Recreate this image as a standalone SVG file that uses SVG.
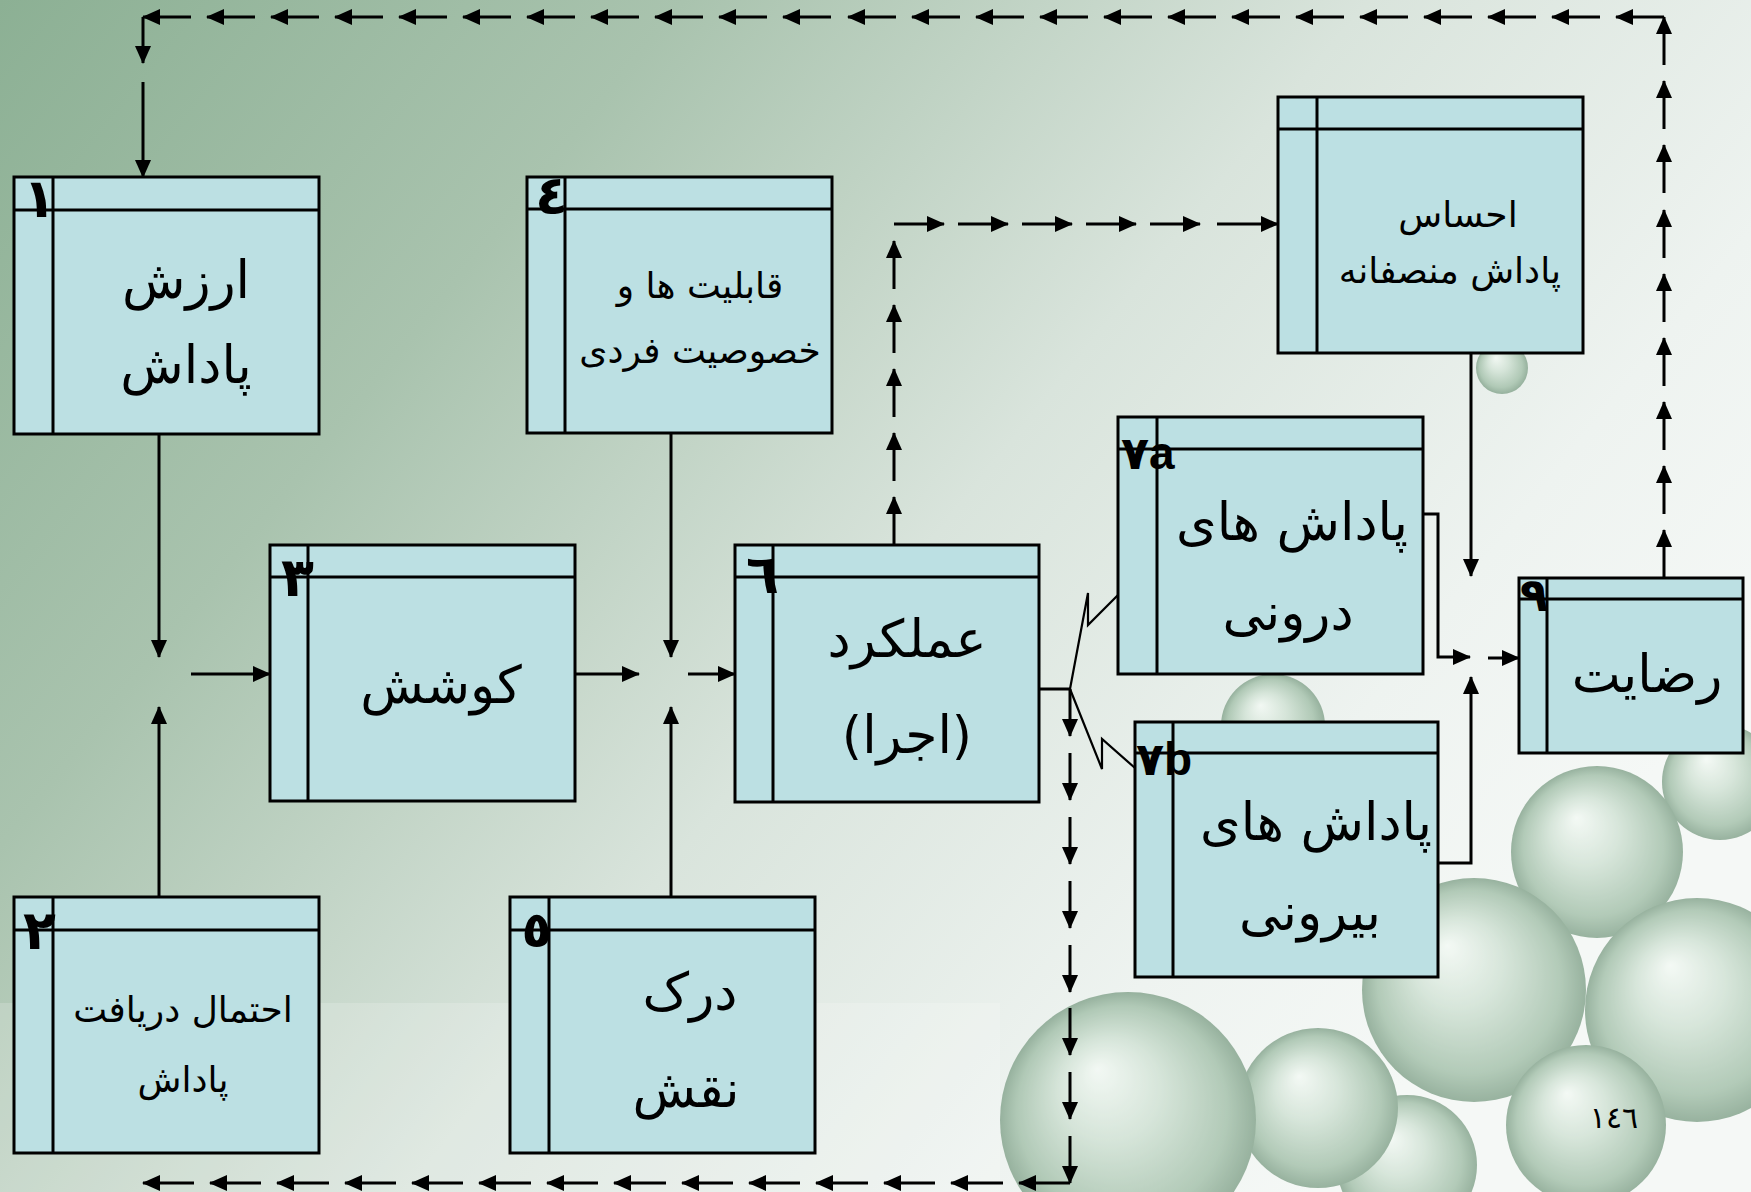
<svg xmlns="http://www.w3.org/2000/svg" width="1751" height="1192" viewBox="0 0 1751 1192">
  <defs>
    <linearGradient id="bg" x1="0" y1="0" x2="1" y2="0.55">
      <stop offset="0" stop-color="#8cb094"/>
      <stop offset="0.3" stop-color="#a9c3ae"/>
      <stop offset="0.6" stop-color="#d9e4dc"/>
      <stop offset="0.85" stop-color="#eef3f0"/>
      <stop offset="1" stop-color="#f5f8f6"/>
    </linearGradient>
    <radialGradient id="bub" cx="0.5" cy="0.5" r="0.5" fx="0.38" fy="0.3">
      <stop offset="0" stop-color="#f4faf5"/>
      <stop offset="0.4" stop-color="#cfe1d3"/>
      <stop offset="0.82" stop-color="#a0bea7"/>
      <stop offset="1" stop-color="#7e9f87"/>
    </radialGradient>
    <marker id="ah" viewBox="0 0 18 16" refX="17" refY="8" markerWidth="18" markerHeight="16" markerUnits="userSpaceOnUse" orient="auto">
      <path d="M0,0 L18,8 L0,16 z" fill="#000"/>
    </marker>
    <style>
      .box { fill: #bce0e3; stroke: #000; stroke-width: 3; }
      .div { stroke: #000; stroke-width: 3; }
      .c { fill: none; stroke: #000; stroke-width: 3; }
      .a { fill: none; stroke: #000; stroke-width: 3; marker-end: url(#ah); }
      .z { fill: none; stroke: #000; stroke-width: 2.2; }
      .t { font-family: "DejaVu Sans", sans-serif; fill: #000; text-anchor: middle; direction: rtl; unicode-bidi: embed; }
      .n { font-family: "DejaVu Sans", sans-serif; font-weight: bold; fill: #000; text-anchor: end; }
      .nl { font-family: "Liberation Sans", "DejaVu Sans", sans-serif; font-weight: bold; fill: #000; font-size: 46px; }
      .b { fill: url(#bub); }
    </style>
  </defs>

  <!-- backdrop -->
  <rect x="0" y="0" width="1751" height="1192" fill="url(#bg)"/>
  <rect x="0" y="1003" width="1000" height="189" fill="#ffffff" opacity="0.18"/>

  <!-- bubble cluster, back to front -->
  <g id="bubbles" opacity="0.78">
    <circle class="b" cx="1502" cy="368" r="26"/>
    <circle class="b" cx="1273" cy="726" r="52"/>
    <circle class="b" cx="1720" cy="782" r="58"/>
    <circle class="b" cx="1597" cy="852" r="86"/>
    <circle class="b" cx="1697" cy="1010" r="112"/>
    <circle class="b" cx="1474" cy="990" r="112"/>
    <circle class="b" cx="1407" cy="1165" r="70"/>
    <circle class="b" cx="1586" cy="1125" r="80"/>
    <circle class="b" cx="1318" cy="1108" r="80"/>
    <circle class="b" cx="1128" cy="1120" r="128"/>
  </g>

  <!-- connectors -->
  <g id="connectors">
    <!-- feedback along the top: from satisfaction back to reward value -->
    <line class="a" x1="1664" y1="578" x2="1664" y2="530"/>
    <line class="a" x1="1664" y1="514" x2="1664" y2="466"/>
    <line class="a" x1="1664" y1="450" x2="1664" y2="402"/>
    <line class="a" x1="1664" y1="386" x2="1664" y2="338"/>
    <line class="a" x1="1664" y1="322" x2="1664" y2="274"/>
    <line class="a" x1="1664" y1="258" x2="1664" y2="210"/>
    <line class="a" x1="1664" y1="193" x2="1664" y2="145"/>
    <line class="a" x1="1664" y1="129" x2="1664" y2="81"/>
    <line class="a" x1="1664" y1="65" x2="1664" y2="17"/>

    <line class="a" x1="1664" y1="17" x2="1616" y2="17"/>
    <line class="a" x1="1600" y1="17" x2="1552" y2="17"/>
    <line class="a" x1="1536" y1="17" x2="1488" y2="17"/>
    <line class="a" x1="1472" y1="17" x2="1424" y2="17"/>
    <line class="a" x1="1408" y1="17" x2="1360" y2="17"/>
    <line class="a" x1="1344" y1="17" x2="1296" y2="17"/>
    <line class="a" x1="1280" y1="17" x2="1232" y2="17"/>
    <line class="a" x1="1216" y1="17" x2="1168" y2="17"/>
    <line class="a" x1="1152" y1="17" x2="1104" y2="17"/>
    <line class="a" x1="1088" y1="17" x2="1040" y2="17"/>
    <line class="a" x1="1024" y1="17" x2="976" y2="17"/>
    <line class="a" x1="960" y1="17" x2="912" y2="17"/>
    <line class="a" x1="896" y1="17" x2="848" y2="17"/>
    <line class="a" x1="831" y1="17" x2="783" y2="17"/>
    <line class="a" x1="767" y1="17" x2="719" y2="17"/>
    <line class="a" x1="703" y1="17" x2="655" y2="17"/>
    <line class="a" x1="639" y1="17" x2="591" y2="17"/>
    <line class="a" x1="575" y1="17" x2="527" y2="17"/>
    <line class="a" x1="511" y1="17" x2="463" y2="17"/>
    <line class="a" x1="447" y1="17" x2="399" y2="17"/>
    <line class="a" x1="383" y1="17" x2="335" y2="17"/>
    <line class="a" x1="319" y1="17" x2="271" y2="17"/>
    <line class="a" x1="255" y1="17" x2="207" y2="17"/>
    <line class="a" x1="191" y1="17" x2="143" y2="17"/>

    <line class="a" x1="143" y1="17" x2="143" y2="63"/>
    <line class="a" x1="143" y1="82" x2="143" y2="177"/>

    <!-- inputs to effort -->
    <line class="a" x1="159" y1="434" x2="159" y2="657"/>
    <line class="a" x1="159" y1="897" x2="159" y2="707"/>
    <line class="a" x1="191" y1="674" x2="270" y2="674"/>

    <!-- inputs to performance -->
    <line class="a" x1="575" y1="674" x2="639" y2="674"/>
    <line class="a" x1="671" y1="433" x2="671" y2="657"/>
    <line class="a" x1="671" y1="897" x2="671" y2="707"/>
    <line class="a" x1="688" y1="674" x2="735" y2="674"/>

    <!-- performance to perceived fairness -->
    <line class="a" x1="894" y1="545" x2="894" y2="497"/>
    <line class="a" x1="894" y1="481" x2="894" y2="433"/>
    <line class="a" x1="894" y1="417" x2="894" y2="369"/>
    <line class="a" x1="894" y1="353" x2="894" y2="305"/>
    <line class="a" x1="894" y1="289" x2="894" y2="241"/>
    <line class="a" x1="894" y1="224" x2="944" y2="224"/>
    <line class="a" x1="958" y1="224" x2="1008" y2="224"/>
    <line class="a" x1="1022" y1="224" x2="1072" y2="224"/>
    <line class="a" x1="1086" y1="224" x2="1136" y2="224"/>
    <line class="a" x1="1150" y1="224" x2="1200" y2="224"/>
    <line class="a" x1="1217" y1="224" x2="1278" y2="224"/>

    <!-- performance to rewards (zigzag links) -->
    <line class="c" x1="1039" y1="689" x2="1071" y2="689"/>
    <polyline class="z" points="1070,689 1088,593 1088,625 1119,594"/>
    <polyline class="z" points="1070,689 1102,769 1102,739 1135,768"/>

    <!-- feedback along the bottom: performance back to reward probability -->
    <line class="a" x1="1070" y1="689" x2="1070" y2="736"/>
    <line class="a" x1="1070" y1="753" x2="1070" y2="800"/>
    <line class="a" x1="1070" y1="817" x2="1070" y2="864"/>
    <line class="a" x1="1070" y1="881" x2="1070" y2="928"/>
    <line class="a" x1="1070" y1="945" x2="1070" y2="992"/>
    <line class="a" x1="1070" y1="1008" x2="1070" y2="1055"/>
    <line class="a" x1="1070" y1="1072" x2="1070" y2="1119"/>
    <line class="a" x1="1070" y1="1136" x2="1070" y2="1183"/>

    <line class="a" x1="1070" y1="1183" x2="1019" y2="1183"/>
    <line class="a" x1="1003" y1="1183" x2="951" y2="1183"/>
    <line class="a" x1="935" y1="1183" x2="884" y2="1183"/>
    <line class="a" x1="868" y1="1183" x2="816" y2="1183"/>
    <line class="a" x1="800" y1="1183" x2="749" y2="1183"/>
    <line class="a" x1="733" y1="1183" x2="682" y2="1183"/>
    <line class="a" x1="666" y1="1183" x2="614" y2="1183"/>
    <line class="a" x1="598" y1="1183" x2="547" y2="1183"/>
    <line class="a" x1="531" y1="1183" x2="479" y2="1183"/>
    <line class="a" x1="463" y1="1183" x2="412" y2="1183"/>
    <line class="a" x1="396" y1="1183" x2="345" y2="1183"/>
    <line class="a" x1="329" y1="1183" x2="277" y2="1183"/>
    <line class="a" x1="261" y1="1183" x2="210" y2="1183"/>
    <line class="a" x1="194" y1="1183" x2="143" y2="1183"/>

    <!-- rewards and fairness into satisfaction -->
    <line class="a" x1="1471" y1="353" x2="1471" y2="576"/>
    <polyline class="a" points="1423,514 1438,514 1438,657 1470,657"/>
    <polyline class="a" points="1438,863 1471,863 1471,677"/>
    <line class="a" x1="1488" y1="658" x2="1519" y2="658"/>
  </g>

  <!-- 1: reward value -->
  <g id="node1">
    <rect class="box" x="14" y="177" width="305" height="257"/>
    <line class="div" x1="14" y1="210" x2="319" y2="210"/>
    <line class="div" x1="53" y1="177" x2="53" y2="434"/>
    <text class="n" x="56" y="217" font-size="54">١</text>
    <text class="t" x="186" y="298" font-size="52">ارزش</text>
    <text class="t" x="186" y="383" font-size="52">پاداش</text>
  </g>

  <!-- 2: probability of receiving reward -->
  <g id="node2">
    <rect class="box" x="14" y="897" width="305" height="256"/>
    <line class="div" x1="14" y1="930" x2="319" y2="930"/>
    <line class="div" x1="53" y1="897" x2="53" y2="1153"/>
    <text class="n" x="56" y="949" font-size="54">٢</text>
    <text class="t" x="183" y="1022" font-size="36">احتمال دریافت</text>
    <text class="t" x="183" y="1092" font-size="36">پاداش</text>
  </g>

  <!-- 3: effort -->
  <g id="node3">
    <rect class="box" x="270" y="545" width="305" height="256"/>
    <line class="div" x1="270" y1="577" x2="575" y2="577"/>
    <line class="div" x1="308" y1="545" x2="308" y2="801"/>
    <text class="n" x="314" y="596" font-size="54">٣</text>
    <text class="t" x="441" y="703" font-size="52">کوشش</text>
  </g>

  <!-- 4: abilities and traits -->
  <g id="node4">
    <rect class="box" x="527" y="177" width="305" height="256"/>
    <line class="div" x1="527" y1="209" x2="832" y2="209"/>
    <line class="div" x1="565" y1="177" x2="565" y2="433"/>
    <text class="n" x="568" y="214" font-size="54">٤</text>
    <text class="t" x="700" y="298" font-size="36">قابلیت ها و</text>
    <text class="t" x="700" y="363" font-size="36">خصوصیت فردی</text>
  </g>

  <!-- 5: role perception -->
  <g id="node5">
    <rect class="box" x="510" y="897" width="305" height="256"/>
    <line class="div" x1="510" y1="930" x2="815" y2="930"/>
    <line class="div" x1="549" y1="897" x2="549" y2="1153"/>
    <text class="n" x="552" y="947" font-size="50">٥</text>
    <text class="t" x="690" y="1010" font-size="52">درک</text>
    <text class="t" x="686" y="1107" font-size="52">نقش</text>
  </g>

  <!-- 6: performance -->
  <g id="node6">
    <rect class="box" x="735" y="545" width="304" height="257"/>
    <line class="div" x1="735" y1="577" x2="1039" y2="577"/>
    <line class="div" x1="773" y1="545" x2="773" y2="802"/>
    <text class="n" x="779" y="593" font-size="54">٦</text>
    <text class="t" x="907" y="657" font-size="52">عملکرد</text>
    <text class="t" x="907" y="753" font-size="52">(اجرا)</text>
  </g>

  <!-- 7a: intrinsic rewards -->
  <g id="node7a">
    <rect class="box" x="1118" y="417" width="305" height="257"/>
    <line class="div" x1="1118" y1="449" x2="1423" y2="449"/>
    <line class="div" x1="1157" y1="417" x2="1157" y2="674"/>
    <text class="nl" x="1121" y="469">٧a</text>
    <text class="t" x="1292" y="540" font-size="52">پاداش های</text>
    <text class="t" x="1288" y="630" font-size="52">درونی</text>
  </g>

  <!-- 7b: extrinsic rewards -->
  <g id="node7b">
    <rect class="box" x="1135" y="722" width="303" height="255"/>
    <line class="div" x1="1135" y1="753" x2="1438" y2="753"/>
    <line class="div" x1="1173" y1="722" x2="1173" y2="977"/>
    <text class="nl" x="1136" y="775">٧b</text>
    <text class="t" x="1316" y="840" font-size="52">پاداش های</text>
    <text class="t" x="1310" y="930" font-size="52">بیرونی</text>
  </g>

  <!-- 8: perceived equitable rewards -->
  <g id="node8">
    <rect class="box" x="1278" y="97" width="305" height="256"/>
    <line class="div" x1="1278" y1="129" x2="1583" y2="129"/>
    <line class="div" x1="1317" y1="97" x2="1317" y2="353"/>
    <text class="t" x="1458" y="227" font-size="36">احساس</text>
    <text class="t" x="1450" y="283" font-size="36">پاداش منصفانه</text>
  </g>

  <!-- 9: satisfaction -->
  <g id="node9">
    <rect class="box" x="1519" y="578" width="224" height="175"/>
    <line class="div" x1="1519" y1="599" x2="1743" y2="599"/>
    <line class="div" x1="1547" y1="578" x2="1547" y2="753"/>
    <text class="n" x="1548" y="611" font-size="46">٩</text>
    <text class="t" x="1647" y="692" font-size="52">رضایت</text>
  </g>

  <!-- page number -->
  <text x="1614" y="1128" font-family="DejaVu Sans, sans-serif" font-size="30" text-anchor="middle" fill="#000">١٤٦</text>
</svg>
